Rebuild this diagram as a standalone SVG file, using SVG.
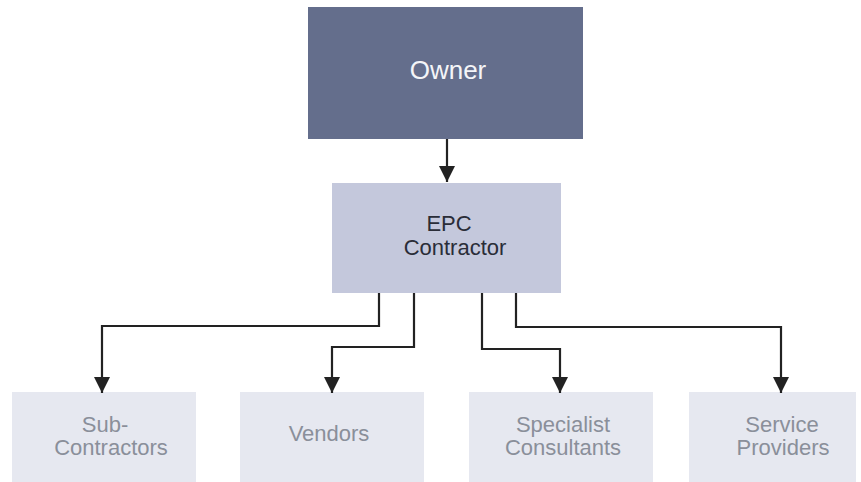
<svg xmlns="http://www.w3.org/2000/svg" width="861" height="482" viewBox="0 0 861 482">
<style>
.lbl{font-family:"Liberation Sans",Arial,sans-serif;text-anchor:middle}
.owner{fill:#646e8c}
.epc{fill:#c4c8dc}
.leaf{fill:#e6e8f0}
.conn{fill:none;stroke:#222;stroke-width:2.2}
</style>
<defs>
<marker id="ah" markerUnits="userSpaceOnUse" markerWidth="18" markerHeight="16" refX="16" refY="8" orient="auto">
<path d="M0,0 L16,8 L0,16 Z" fill="#222"/>
</marker>
</defs>
<rect width="861" height="482" fill="#ffffff"/>
<g id="owner">
<rect class="owner" x="308" y="7" width="275" height="132"/>
<text class="lbl" x="448" y="79" font-size="26" fill="#f4f5f8">Owner</text>
</g>
<g id="epc">
<rect class="epc" x="332" y="183" width="229" height="110"/>
<text class="lbl" x="449" y="231" font-size="22" fill="#2a2d38">EPC</text>
<text class="lbl" x="455" y="255" font-size="22" fill="#2a2d38">Contractor</text>
</g>
<g id="subcontractors">
<rect class="leaf" x="12" y="392" width="184" height="90"/>
<text class="lbl" x="105" y="432" font-size="22" fill="#8a8f9a">Sub-</text>
<text class="lbl" x="111" y="455" font-size="22" fill="#8a8f9a">Contractors</text>
</g>
<g id="vendors">
<rect class="leaf" x="240" y="392" width="184" height="90"/>
<text class="lbl" x="329" y="441" font-size="22" fill="#8a8f9a">Vendors</text>
</g>
<g id="specialist">
<rect class="leaf" x="469" y="392" width="184" height="90"/>
<text class="lbl" x="563" y="432" font-size="22" fill="#8a8f9a">Specialist</text>
<text class="lbl" x="563" y="455" font-size="22" fill="#8a8f9a">Consultants</text>
</g>
<g id="service">
<rect class="leaf" x="689" y="392" width="167" height="90"/>
<text class="lbl" x="782" y="432" font-size="22" fill="#8a8f9a">Service</text>
<text class="lbl" x="783" y="455" font-size="22" fill="#8a8f9a">Providers</text>
</g>
<g id="connectors">
<path class="conn" d="M447,139 V182" marker-end="url(#ah)"/>
<path class="conn" d="M379,293 V326 H102 V393" marker-end="url(#ah)"/>
<path class="conn" d="M414,293 V347 H332 V393" marker-end="url(#ah)"/>
<path class="conn" d="M482,293 V349 H560 V393" marker-end="url(#ah)"/>
<path class="conn" d="M516,293 V327 H781 V393" marker-end="url(#ah)"/>
</g>
</svg>
